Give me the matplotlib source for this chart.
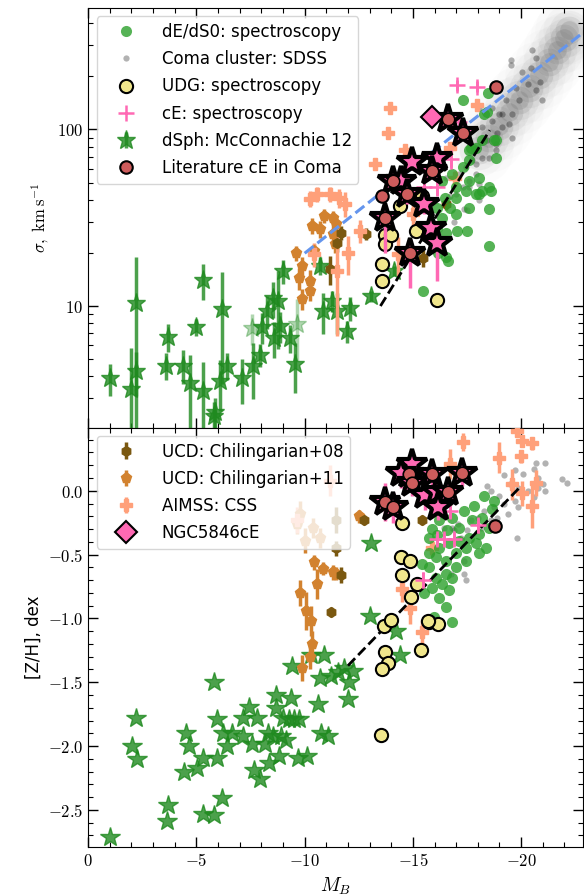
import numpy as np
import matplotlib.pyplot as plt
from matplotlib.ticker import FixedLocator, MultipleLocator, FuncFormatter, NullFormatter, LogLocator

plt.rcParams['mathtext.fontset'] = 'cm'
plt.rcParams['font.family'] = ['DejaVu Sans']

# ---------------- top panel: velocity dispersion ----------------
# Coma cluster SDSS: ridge of the dense cloud
cloud_mb = [-18.06, -18.53, -18.99, -19.45, -19.91, -20.37, -20.83, -21.29, -21.66, -21.98, -22.21]
cloud_sig = [76, 89, 105, 125, 146, 171, 203, 240, 282, 330, 365]
# Coma cluster SDSS: individual galaxies
coma_mb = [-20.5, -19.55, -20.7, -20.05, -20.3, -19.75, -19.3, -18.65, -19.0, -19.6,
           -19.9, -20.7, -20.95, -18.05, -18.65, -18.2, -19.1, -18.9, -18.4, -19.6,
           -17.9, -18.5, -17.75, -17.45, -17.9, -17.6, -17.15, -17.3, -17.0, -18.2,
           -18.85, -19.55, -20.45, -20.85, -17.0, -17.35, -17.6, -18.05, -17.9, -18.85,
           -19.1, -19.45, -16.55, -17.5, -16.9, -18.05, -16.7]
coma_sig = [281, 247, 253, 211, 182, 171, 146, 133, 123, 123,
            146, 167, 146, 133, 112, 103, 103, 95, 87, 90,
            79, 69, 67, 61, 56, 51, 56, 47, 43, 69,
            83, 231, 222, 185, 51, 35.6, 47, 49, 64, 76,
            123, 108, 53, 35, 30, 40, 42]

de_mb = [-17.3, -18.45, -18.4, -18.6, -18.5, -18.5, -17.5, -17.05, -16.6, -15.45,
         -17.6, -17.9, -18.2, -18.85, -17.6, -17.3, -16.8, -16.35, -17.6, -18.05,
         -17.0, -17.45, -17.9, -16.5, -17.0, -16.1, -16.7, -16.35, -17.0, -16.1,
         -16.55, -18.2, -17.6, -18.3, -17.7, -18.75, -18.85, -18.5, -18.05, -16.55, -16.15]
de_sig = [146, 160, 125, 45, 35.6, 21.9, 26.7, 26.7, 18, 12.2,
          76, 79, 87, 87, 67, 61, 56, 51, 51, 53,
          47, 45, 43, 41, 41, 36, 36, 31.6, 33, 27.8,
          26, 45, 36, 123, 79, 87, 69, 47, 43, 19, 20]

udg_mb = [-13.55, -13.55, -13.7, -13.7, -14.0, -14.4, -15.15, -16.1, -15.4]
udg_sig = [17.3, 13.9, 25.3, 22.5, 25.3, 37, 26.7, 10.8, 42]

ce_mb = [-17.05, -17.95, -16.75, -15.5, -16.1, -17.15]
ce_sig = [178, 175, 68, 47, 47, 110]
ce_sig_err = [12, 12, 8, 5, 5, 10]

dsph_mb = [-1.0, -2.0, -2.2, -2.2, -3.7, -3.6, -4.4, -4.7, -5.0, -5.3,
           -5.3, -5.85, -5.8, -6.2, -6.1, -6.4, -7.1, -7.6, -7.95, -8.05,
           -8.25, -8.55, -8.75, -8.6, -8.85, -9.0, -9.3, -9.55, -10.7, -10.85,
           -11.25, -11.5, -12.1, -11.95, -13.05, -14.15]
dsph_sig = [3.9, 3.4, 10.4, 4.3, 6.7, 4.6, 4.6, 3.65, 7.6, 14.0,
            3.3, 2.5, 2.37, 9.6, 3.75, 4.6, 3.9, 4.56, 5.3, 7.6,
            9.4, 11.1, 10.7, 6.6, 7.7, 15.8, 6.6, 4.7, 16.9, 9.4,
            10.7, 9.4, 9.75, 7.2, 11.4, 15.8]
dsph_sig_err = [0.8, 2.4, 8.5, 1.2, 1.2, 0.8, 1.0, 1.6, 0.8, 3.2,
                1.5, 0.5, 0.5, 6.0, 1.2, 0.8, 1.1, 1.6, 0.8, 1.5,
                2.0, 2.5, 5.0, 1.5, 1.5, 2.5, 1.2, 1.5, 2.0, 2.5,
                1.5, 2.5, 1.5, 1.0, 0.8, 1.0]
dsph_faint_mb = [-7.55, -9.65]
dsph_faint_sig = [7.5, 7.9]
dsph_faint_err = [1.5, 3.0]

star_mb = [-16.6, -17.3, -16.1, -15.9, -14.95, -14.1, -14.45, -14.75, -15.5, -13.7, -15.85, -16.1, -14.85]
star_sig = [115, 95, 69, 58.5, 65, 51, 51, 43, 38, 31.6, 27.8, 22.8, 20]
star_sig_lo = [8, 8, 6, 6, 6, 5, 5, 5, 5, 11.6, 5, 9, 7.3]
star_sig_hi = [8, 8, 6, 6, 6, 5, 5, 5, 5, 5, 5, 4, 4]
star_sig_lit = [1, 1, 0, 1, 0, 1, 0, 1, 0, 1, 0, 0, 1]

lit_mb = [-13.55, -18.85]
lit_sig = [42, 175]

ngc_mb = [-15.9]
ngc_sig = [117]

ucd08_mb = [-11.7, -11.5, -11.15, -16.55, -15.45, -12.85]
ucd08_sig = [26, 22.8, 16.2, 38, 18.7, 25.7]
ucd08_sig_err = [2.5, 2.5, 3, 3, 2, 2]

ucd11_mb = [-9.6, -10.35, -10.9, -11.3, -11.45, -11.3, -11.4, -9.9, -9.75, -10.25, -9.9, -10.25, -10.7, -10.45]
ucd11_sig = [20, 28.5, 32.5, 31.6, 29.2, 25.7, 22.5, 16.9, 14.4, 13.9, 11, 12.2, 27.4, 20.5]
ucd11_sig_err = [2, 3, 3, 3, 3, 3, 2.5, 2, 2, 2, 1.5, 1.5, 3, 2]

aimss_mb = [-13.95, -13.85, -14.65, -13.25, -17.95, -16.7, -16.95, -12.55, -12.0, -11.5,
            -14.3, -15.0, -10.55, -11.15, -11.6, -11.85, -10.25, -10.45]
aimss_sig = [132, 95, 76, 64, 137, 79, 53, 26.7, 20, 15.8,
             19.7, 33.3, 43, 43, 41, 38, 40.6, 19.7]
aimss_sig_err = [8, 6, 6, 5, 8, 6, 5, 4, 5, 9, 5, 6, 4, 4, 5, 6, 4, 3]

fj_mb = [-10.0, -23.0]
fj_sig = [19.9, 365]
dsig_mb = [-13.5, -18.55]
dsig_sig = [10.0, 99]

# ---------------- bottom panel: metallicity ----------------
zcoma_mb = [-19.2, -19.7, -20.1, -20.6, -21.1, -22.1, -21.9, -21.1, -20.6, -19.7,
            -19.85, -19.4, -18.9, -18.6, -18.15, -17.5, -17.2, -16.8, -17.1, -17.7,
            -18.3, -18.75, -19.2, -19.85, -20.3, -20.8, -21.0, -19.5, -18.6, -19.0,
            -18.0, -16.45, -16.9, -17.36, -17.45, -16.76, -17.36, -20.8, -19.8, -18.4, -20.7]
zcoma_z = [0.12, 0.16, 0.13, 0.17, 0.22, 0.06, 0.09, 0.0, -0.05, -0.08,
           -0.13, -0.18, -0.21, -0.23, -0.29, -0.31, -0.37, -0.29, -0.26, -0.23,
           -0.16, -0.13, -0.10, 0.02, 0.0, 0.02, 0.05, 0.05, 0.0, -0.04,
           -0.21, -0.29, -0.31, -0.55, -0.70, -0.65, -0.65, 0.10, -0.37, 0.04, 0.22]

zde_mb = [-18.3, -18.66, -17.37, -16.82, -16.22, -15.9, -15.76, -16.13, -16.59, -17.14,
          -17.74, -18.2, -18.53, -18.06, -17.6, -17.14, -16.68, -16.22, -15.76, -16.08,
          -16.54, -17.0, -17.47, -17.93, -18.39, -18.06, -17.47, -17.0, -16.54, -16.08,
          -15.76, -15.44, -15.53, -15.9, -16.36, -16.82, -16.22, -16.68, -16.54, -15.99,
          -16.82, -18.76, -17.83]
zde_z = [-0.04, -0.14, -0.16, -0.21, -0.23, -0.30, -0.37, -0.35, -0.31, -0.29,
         -0.23, -0.21, -0.29, -0.34, -0.37, -0.39, -0.41, -0.45, -0.49, -0.52,
         -0.55, -0.49, -0.45, -0.41, -0.45, -0.49, -0.55, -0.60, -0.65, -0.68,
         -0.60, -0.57, -0.80, -0.76, -0.73, -0.68, -0.84, -0.78, -0.91, -0.99,
         -1.03, -0.08, -0.12]

zudg_mb = [-13.66, -13.98, -13.7, -13.84, -13.56, -13.52, -15.37, -15.74, -16.16,
           -14.49, -14.44, -14.86, -14.49, -15.19, -14.9, -15.69]
zudg_z = [-1.06, -1.01, -1.26, -1.35, -1.40, -1.91, -1.25, -1.03, -1.04,
          -0.25, -0.52, -0.55, -0.66, -0.73, -0.83, -1.02]

zce_mb = [-16.1, -16.45, -16.9, -15.45, -18.0, -16.7]
zce_z = [-0.38, -0.38, -0.38, -0.70, -0.27, -0.16]
zce_z_err = [0.05, 0.05, 0.05, 0.06, 0.06, 0.05]

zdsph_mb = [-1.02, -2.04, -2.27, -2.22, -3.66, -3.7, -4.44, -4.54, -4.68, -5.04,
            -5.32, -5.32, -5.79, -5.83, -5.93, -5.97, -6.16, -6.25, -6.43, -6.66,
            -7.13, -7.13, -7.41, -7.59, -7.64, -7.82, -7.96, -8.29, -8.19, -8.33,
            -8.52, -8.66, -8.66, -8.8, -8.89, -8.98, -9.12, -9.26, -9.35, -9.49,
            -9.67, -9.72, -9.4, -10.09, -10.28, -10.6, -10.69, -10.74, -10.88, -11.06,
            -11.2, -11.53, -11.81, -11.99, -12.04, -12.22, -13.0, -14.2, -14.4, -13.06]
zdsph_z = [-2.71, -2.0, -2.10, -1.78, -2.59, -2.46, -2.20, -1.90, -2.0, -2.17,
           -2.09, -2.53, -2.54, -1.50, -2.09, -1.79, -2.41, -1.90, -2.0, -1.90,
           -1.92, -1.78, -1.69, -1.98, -2.19, -1.78, -2.26, -1.90, -1.98, -2.13,
           -1.92, -1.60, -1.70, -2.08, -1.92, -1.78, -1.95, -1.79, -1.62, -1.79,
           -2.09, -1.79, -1.37, -2.08, -1.29, -1.67, -1.47, -1.90, -1.29, -1.92,
           -1.45, -1.42, -1.39, -1.63, -1.50, -1.41, -0.98, -1.10, -1.29, -0.41]

zstar_mb = [-14.8, -14.95, -14.45, -14.95, -15.9, -17.25, -15.55, -16.1, -16.6, -16.15, -13.7, -14.1]
zstar_z = [0.13, 0.21, 0.14, 0.06, 0.13, 0.14, -0.03, -0.01, -0.01, -0.13, -0.09, -0.13]
zstar_z_err = [0.1, 0.1, 0.12, 0.1, 0.1, 0.1, 0.12, 0.1, 0.1, 0.1, 0.15, 0.12]
zstar_lit = [1, 0, 0, 1, 1, 1, 0, 0, 1, 0, 1, 1]

zlit_mb = [-18.8]
zlit_z = [-0.28]

zucd08_mb = [-12.76, -15.44, -11.66, -11.2, -16.59, -11.47, -11.47]
zucd08_z = [-0.23, -0.23, -0.66, -0.95, -0.09, -0.45, -0.23]
zucd08_z_err = [0.04, 0.04, 0.06, 0.04, 0.04, 0.06, 0.1]

zucd11_mb = [-10.45, -10.83, -11.47, -9.77, -10.55, -10.05, -10.28, -10.32, -10.23, -9.9,
             -12.53, -11.29, -9.63, -10.37, -10.69, -10.0, -9.77]
zucd11_z = [-0.56, -0.61, -0.65, -0.80, -0.73, -0.94, -1.02, -1.20, -1.30, -1.39,
            -0.20, -0.64, -0.26, -0.29, -0.37, -0.39, -0.18]
zucd11_z_err = [0.06, 0.05, 0.05, 0.1, 0.12, 0.15, 0.12, 0.1, 0.1, 0.1,
                0.05, 0.06, 0.08, 0.08, 0.08, 0.1, 0.1]

zaimss_mb = [-17.3, -16.7, -19.0, -19.8, -20.05, -20.5, -20.0, -19.6, -20.05, -20.5,
             -20.7, -15.9, -14.5, -14.85, -15.4, -11.15, -9.63]
zaimss_z = [0.38, 0.21, 0.26, 0.47, 0.39, 0.37, 0.27, 0.05, -0.02, -0.12,
            0.06, -0.45, -0.77, -0.92, -1.11, 0.08, -0.23]
zaimss_z_err = [0.07, 0.12, 0.12, 0.05, 0.05, 0.05, 0.05, 0.12, 0.1, 0.17,
                0.1, 0.06, 0.1, 0.12, 0.1, 0.12, 0.1]

zline_mb = [-12.0, -19.9]
zline_z = [-1.37, 0.02]

# ---------------- styles ----------------
c_de = '#2ca02c'
c_dsph = '#1f8a1f'
c_udg = '#f0e68c'
c_ce = '#ff69b4'
c_lit = '#cd5c5c'
c_ucd08 = '#7a5810'
c_ucd11 = '#d2822f'
c_aimss = '#ffa07a'

fig, (ax1, ax2) = plt.subplots(2, 1, figsize=(5.84, 8.96), dpi=100, sharex=True)
fig.subplots_adjust(left=0.151, right=0.998, top=0.991, bottom=0.0547, hspace=0)

# --- top ---
ax1.set_yscale('log')
for size, a in [(2400, 0.015), (1400, 0.03), (800, 0.06), (400, 0.12), (180, 0.18)]:
    ax1.scatter(cloud_mb, cloud_sig, s=size, color='#606060', alpha=a, lw=0, zorder=1)
h_coma, = ax1.plot(coma_mb, coma_sig, 'o', color='k', alpha=0.3, ms=4.5, mew=0, zorder=2,
                   label='Coma cluster: SDSS')
ax1.errorbar(dsph_faint_mb, dsph_faint_sig, yerr=dsph_faint_err, fmt='*', color=c_dsph,
             alpha=0.35, ms=14, elinewidth=2.5, capsize=0, zorder=3)
h_dsph = ax1.errorbar(dsph_mb, dsph_sig, yerr=dsph_sig_err, fmt='*', color=c_dsph, alpha=0.8,
                      ms=14, elinewidth=2.5, capsize=0, zorder=3, label='dSph: McConnachie 12')
h_ucd11 = ax1.errorbar(ucd11_mb, ucd11_sig, yerr=ucd11_sig_err, fmt='p', color=c_ucd11,
                       ms=8, elinewidth=2.5, capsize=0, zorder=4, label='UCD: Chilingarian+11')
h_ucd08 = ax1.errorbar(ucd08_mb, ucd08_sig, yerr=ucd08_sig_err, fmt='h', color=c_ucd08,
                       ms=7, elinewidth=2.5, capsize=0, zorder=4, label='UCD: Chilingarian+08')
h_aimss = ax1.errorbar(aimss_mb, aimss_sig, yerr=aimss_sig_err, fmt='P', color=c_aimss,
                       ms=9, elinewidth=2.5, capsize=0, zorder=4, label='AIMSS: CSS')
h_de, = ax1.plot(de_mb, de_sig, 'o', color=c_de, alpha=0.8, ms=8, mew=0, zorder=5,
                 label='dE/dS0: spectroscopy')
ax1.plot(fj_mb, fj_sig, '--', color='#6495ed', lw=2.2, zorder=6)
ax1.plot(dsig_mb, dsig_sig, '--', color='k', lw=2, zorder=6)
h_udg, = ax1.plot(udg_mb, udg_sig, 'o', mfc=c_udg, mec='k', mew=1.5, ms=9.5, zorder=7,
                  label='UDG: spectroscopy')
ax1.errorbar(ce_mb, ce_sig, yerr=ce_sig_err, fmt='none', ecolor=c_ce, elinewidth=2,
             capsize=0, zorder=7)
h_ce, = ax1.plot(ce_mb, ce_sig, '+', color=c_ce, ms=12, mew=1.8, zorder=7,
                 label='cE: spectroscopy')
ax1.errorbar(star_mb, star_sig, yerr=[star_sig_lo, star_sig_hi], fmt='none', ecolor=c_ce,
             elinewidth=2.5, capsize=0, zorder=8)
ax1.plot(star_mb, star_sig, '*', mfc=c_ce, mec='k', mew=3, ms=22, zorder=9)
lit_star_mb = [m for m, f in zip(star_mb, star_sig_lit) if f]
lit_star_sig = [s for s, f in zip(star_sig, star_sig_lit) if f]
ax1.plot(lit_star_mb, lit_star_sig, 'o', mfc=c_lit, mec='k', mew=1.2, ms=9, zorder=10)
h_lit, = ax1.plot(lit_mb, lit_sig, 'o', mfc=c_lit, mec='k', mew=1.5, ms=9, zorder=10,
                  label='Literature cE in Coma')
h_ngc, = ax1.plot(ngc_mb, ngc_sig, 'D', mfc=c_ce, mec='k', mew=1.5, ms=11, zorder=9,
                  label='NGC5846cE')

# --- bottom ---
ax2.plot(zcoma_mb, zcoma_z, 'o', color='k', alpha=0.3, ms=4.5, mew=0, zorder=2)
ax2.plot(zdsph_mb, zdsph_z, '*', color=c_dsph, alpha=0.8, ms=15, zorder=3)
ax2.errorbar(zucd11_mb, zucd11_z, yerr=zucd11_z_err, fmt='p', color=c_ucd11,
             ms=8, elinewidth=2.5, capsize=0, zorder=4)
ax2.errorbar(zucd08_mb, zucd08_z, yerr=zucd08_z_err, fmt='h', color=c_ucd08,
             ms=7, elinewidth=2.5, capsize=0, zorder=4)
ax2.errorbar(zaimss_mb, zaimss_z, yerr=zaimss_z_err, fmt='P', color=c_aimss,
             ms=9, elinewidth=2.5, capsize=0, zorder=4)
ax2.plot(zde_mb, zde_z, 'o', color=c_de, alpha=0.8, ms=8, mew=0, zorder=5)
ax2.plot(zline_mb, zline_z, '--', color='k', lw=2, zorder=6)
ax2.plot(zudg_mb, zudg_z, 'o', mfc=c_udg, mec='k', mew=1.5, ms=9.5, zorder=7)
ax2.errorbar(zce_mb, zce_z, yerr=zce_z_err, fmt='+', color=c_ce, ms=12, mew=1.8,
             elinewidth=2, capsize=0, zorder=7)
ax2.errorbar(zstar_mb, zstar_z, yerr=zstar_z_err, fmt='none', ecolor=c_ce,
             elinewidth=2.5, capsize=0, zorder=8)
ax2.plot(zstar_mb, zstar_z, '*', mfc=c_ce, mec='k', mew=3, ms=22, zorder=9)
zlit_star_mb = [m for m, f in zip(zstar_mb, zstar_lit) if f]
zlit_star_z = [z for z, f in zip(zstar_z, zstar_lit) if f]
ax2.plot(zlit_star_mb, zlit_star_z, 'o', mfc=c_lit, mec='k', mew=1.2, ms=9, zorder=10)
ax2.plot(zlit_mb, zlit_z, 'o', mfc=c_lit, mec='k', mew=1.5, ms=9, zorder=10)

# --- axes ---
ax1.set_xlim(0, -22.85)
ax1.set_ylim(2.05, 487)
ax2.set_ylim(-2.79, 0.495)

ax1.yaxis.set_major_locator(FixedLocator([10, 100]))
ax1.yaxis.set_major_formatter(FuncFormatter(lambda v, p: f'${v:.0f}$'))
ax1.yaxis.set_minor_locator(LogLocator(base=10, subs=np.arange(2, 10)))
ax1.yaxis.set_minor_formatter(NullFormatter())

ax2.yaxis.set_major_locator(MultipleLocator(0.5))
ax2.yaxis.set_minor_locator(MultipleLocator(0.1))
ax2.yaxis.set_major_formatter(FuncFormatter(lambda v, p: f'${v:.1f}$'))
ax2.xaxis.set_major_locator(MultipleLocator(5))
ax2.xaxis.set_minor_locator(MultipleLocator(1))
ax2.xaxis.set_major_formatter(FuncFormatter(lambda v, p: f'${int(round(v))}$'))

for ax in (ax1, ax2):
    ax.tick_params(which='both', direction='in', top=True, right=True, labelsize=12)
    ax.tick_params(which='major', length=7, width=1)
    ax.tick_params(which='minor', length=3.5, width=0.8)

ax1.set_ylabel(r'$\sigma,\ \mathrm{km\,s^{-1}}$', fontsize=12)
ax2.set_ylabel('[Z/H], dex', fontsize=12)
ax2.set_xlabel(r'$M_B$', fontsize=14)

leg_kw = dict(loc='upper left', fontsize=12, labelspacing=0.55, framealpha=0.8,
              handlelength=2.7, handletextpad=0.8)
leg1 = ax1.legend([h_de, h_coma, h_udg, h_ce, h_dsph, h_lit],
                  ['dE/dS0: spectroscopy', 'Coma cluster: SDSS', 'UDG: spectroscopy',
                   'cE: spectroscopy', 'dSph: McConnachie 12', 'Literature cE in Coma'], **leg_kw)
leg2 = ax2.legend([h_ucd08, h_ucd11, h_aimss, h_ngc],
                  ['UCD: Chilingarian+08', 'UCD: Chilingarian+11', 'AIMSS: CSS', 'NGC5846cE'],
                  **leg_kw)
leg1.set_zorder(20)
leg2.set_zorder(20)

fig.savefig('out.png', dpi=100)
